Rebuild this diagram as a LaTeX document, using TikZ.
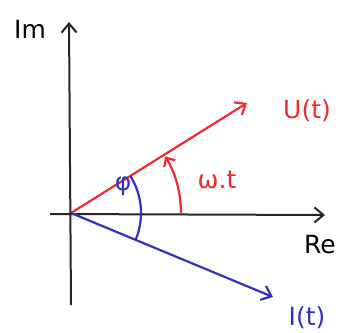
\documentclass[tikz,border=0pt]{standalone}
\usepackage{fontspec}
\setmainfont{DejaVu Sans}
\usetikzlibrary{arrows.meta}
\definecolor{pred}{HTML}{F02A2A}
\definecolor{pblue}{HTML}{3232C0}
\begin{document}
\begin{tikzpicture}[x=1pt,y=1pt,
  axis/.style={line width=2pt,black!85,-{Straight Barb[length=9pt,width=15pt,line width=2pt]}},
  vec/.style={line width=2.2pt,-{Straight Barb[length=9pt,width=15pt,line width=2.2pt]}},
  lab/.style={font=\fontsize{25}{25}\selectfont,inner sep=0pt}]
\useasboundingbox (0,0) rectangle (345,332);
\coordinate (O) at (71,119);
\coordinate (ybot) at (71,27);
\coordinate (ytop) at (69,310);
\coordinate (xl) at (50,118);
\coordinate (xr) at (325,117);
\coordinate (U) at (247,229);
\coordinate (I) at (273,35);
\draw[axis] (ybot) -- (ytop);
\draw[axis] (xl) -- (xr);
\draw[vec,pred] (O) -- (U);
\draw[vec,pblue] (O) -- (I);
\draw[line width=2.2pt,pred,-{Straight Barb[length=7pt,width=13pt,line width=2.2pt]}] ([shift={(0:110)}]O) arc[start angle=0,end angle=31,radius=110];
\draw[line width=2.2pt,pblue] ([shift={(-22.6:70)}]O) arc[start angle=-22.6,end angle=32,radius=70];
\node[lab] (im) at (30,303) {Im};
\node[lab,pred] (ut) at (307,221) {U(t)};
\node[lab,pred] (wt) at (217,152) {ω.t};
\node[lab,pblue] (phi) at (123,146) {φ};
\node[lab] (re) at (320,87) {Re};
\node[lab,pblue] (it) at (307,14) {I(t)};
\end{tikzpicture}
\end{document}
